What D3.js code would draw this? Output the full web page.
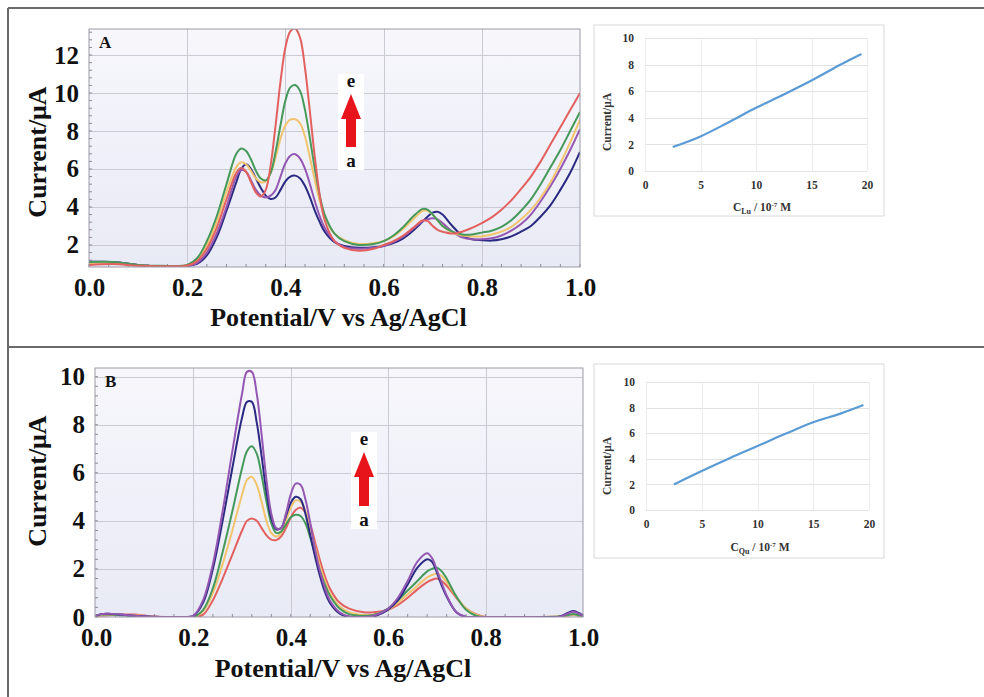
<!DOCTYPE html>
<html><head><meta charset="utf-8">
<script src="https://cdn.jsdelivr.net/npm/d3@7"></script>
<style>
html,body{margin:0;padding:0;background:#fff;}
svg{display:block;}
</style></head><body>
<svg id="chart" width="984" height="697"></svg>
<script>
// ---------- Panel A: DPV curves (Lu) ----------
const potentialA = [0,0.05,0.1,0.15,0.2, 0.22,0.24,0.26,0.28,0.30,
  0.31,0.32,0.33,0.34,0.35,0.36,0.37,0.38,0.39,0.40,0.41,0.42,0.43,0.44,0.45,0.46,0.47,0.48,
  0.50,0.52,0.55,0.58, 0.60,0.62,0.64,0.66,0.68, 0.69,0.70,0.71,0.72,
  0.74,0.76,0.78,0.80,0.82,0.84,0.86,0.88,0.90,0.92,0.94,0.96,0.98, 1.0];
const navyA = [1.12,1.1,0.95,0.88,0.9, 1.0,1.45,2.4,3.8,5.3,
  6.0,6.25,6.0,5.5,5.0,4.6,4.42,4.5,4.9,5.35,5.6,5.65,5.5,5.1,4.5,3.8,3.2,2.7,
  2.15,1.95,1.85,1.88, 1.95,2.1,2.35,2.75,3.25, 3.5,3.7,3.75,3.6,
  3.0,2.5,2.3,2.25,2.23,2.3,2.45,2.7,3.0,3.5,4.1,4.9,5.8, 6.9];
const purpleA = [1.1,1.1,0.95,0.88,0.9, 1.05,1.6,2.6,4.0,5.6,
  5.95,5.85,5.4,4.9,4.6,4.5,4.6,4.9,5.6,6.3,6.7,6.78,6.55,6.0,5.2,4.3,3.5,2.9,
  2.2,1.9,1.8,1.85, 1.95,2.15,2.45,2.85,3.25, 3.35,3.4,3.35,3.15,
  2.7,2.4,2.3,2.3,2.35,2.5,2.75,3.1,3.6,4.3,5.1,6.0,7.0, 8.1];
const yellowA = [1.05,1.05,0.92,0.88,0.93, 1.2,2.0,3.2,4.8,6.1,
  6.35,6.25,5.9,5.5,5.3,5.35,5.8,6.6,7.6,8.3,8.6,8.62,8.4,7.7,6.6,5.4,4.3,3.5,
  2.6,2.25,2.05,2.1, 2.2,2.45,2.85,3.35,3.8, 3.8,3.6,3.3,3.0,
  2.65,2.5,2.45,2.45,2.55,2.7,2.95,3.35,3.85,4.5,5.3,6.3,7.4, 8.6];
const greenA = [1.1,1.1,0.95,0.9,0.95, 1.3,2.2,3.5,5.2,6.8,
  7.08,6.95,6.5,5.9,5.5,5.4,5.8,6.9,8.3,9.6,10.3,10.42,10.1,9.1,7.6,6.0,4.6,3.6,
  2.6,2.2,2.0,2.05, 2.2,2.5,2.95,3.5,3.9, 3.85,3.6,3.3,3.0,
  2.7,2.55,2.55,2.65,2.75,2.95,3.3,3.8,4.4,5.2,6.1,7.0,8.0, 9.0];
const redA = [0.95,1.0,0.9,0.88,0.92, 1.15,1.8,2.9,4.4,5.8,
  6.05,5.85,5.3,4.75,4.55,4.9,6.2,8.3,10.6,12.4,13.25,13.4,12.9,11.3,9.0,6.6,4.6,3.3,
  2.2,1.85,1.7,1.8, 2.0,2.2,2.5,2.9,3.3, 3.25,3.0,2.8,2.7,
  2.6,2.7,2.9,3.15,3.45,3.85,4.35,4.95,5.6,6.4,7.3,8.2,9.1, 10.0];

// ---------- Panel B: DPV curves (Qu) ----------
const potentialB = [0,0.01,0.03,0.06,0.08,0.10,0.12,0.15,0.18,0.20, 0.22,0.24,0.26,0.28,0.30,
  0.31,0.32,0.33,0.34,0.35,0.36,0.37,0.38,0.39,0.40,0.41,0.42,0.43,0.44,0.45,0.46,0.47,0.48,
  0.50,0.52,0.55,0.57, 0.60,0.62,0.64,0.66,0.68, 0.69,0.70,0.71,0.72,
  0.74,0.76,0.78,0.80, 0.85,0.90,0.95, 0.97,0.98,0.99,1.0];
const redB = [0.03,0.06,0.08,0.1,0.1,0.06,0.02,0,0,0, 0.1,0.7,1.6,2.6,3.6,
  4.0,4.1,4.0,3.7,3.4,3.22,3.2,3.35,3.7,4.15,4.45,4.55,4.35,3.85,3.1,2.35,1.7,1.2,
  0.6,0.35,0.2,0.2, 0.3,0.5,0.8,1.15,1.45, 1.55,1.6,1.5,1.3,
  0.8,0.35,0.12,0, 0,0,0.02, 0.06,0.1,0.06,0.02];
const yellowB = [0.04,0.08,0.1,0.08,0.07,0.04,0.01,0,0,0, 0.25,1.0,2.2,3.6,5.1,
  5.7,5.83,5.5,4.8,4.0,3.5,3.35,3.5,4.0,4.55,4.85,4.8,4.4,3.7,2.9,2.1,1.5,1.0,
  0.45,0.2,0.08,0.1, 0.3,0.6,0.95,1.3,1.65, 1.75,1.8,1.7,1.45,
  0.85,0.35,0.1,0, 0,0,0.02, 0.08,0.1,0.07,0.03];
const greenB = [0.05,0.1,0.1,0.06,0.04,0.02,0,0,0,0, 0.3,1.2,2.7,4.4,6.2,
  6.9,7.1,6.8,5.9,4.8,3.9,3.5,3.55,3.85,4.15,4.25,4.2,3.9,3.3,2.6,1.9,1.35,0.9,
  0.35,0.12,0.05,0.08, 0.35,0.7,1.1,1.5,1.9, 2.0,2.05,1.9,1.6,
  0.85,0.3,0.05,0, 0,0,0.02, 0.08,0.12,0.08,0.03];
const navyB = [0.05,0.12,0.13,0.08,0.05,0.03,0.01,0,0,0.05, 0.6,2.0,4.0,6.2,8.3,
  8.95,8.95,8.1,6.7,5.2,4.1,3.65,3.7,4.2,4.75,5.0,4.9,4.3,3.4,2.5,1.7,1.05,0.6,
  0.15,0,0,0.02, 0.3,0.7,1.35,2.05,2.4, 2.3,1.85,1.3,0.85,
  0.2,0,0,0, 0,0,0, 0.18,0.25,0.18,0.06];
const purpleB = [0.05,0.12,0.13,0.08,0.05,0.03,0.01,0,0,0.05, 0.7,2.2,4.4,6.9,9.3,
  10.2,10.2,9.3,7.6,5.7,4.3,3.7,3.7,4.3,5.1,5.55,5.5,4.9,3.9,2.8,1.9,1.2,0.7,
  0.2,0.02,0,0.05, 0.35,0.8,1.5,2.3,2.65, 2.45,1.95,1.4,0.9,
  0.2,0,0,0, 0,0,0, 0.15,0.22,0.15,0.05];

// ---------- Calibration plots ----------
const concLu = [2.5,5,7.5,10,12.5,15,17.5,19.5];
const peakLu = [1.8,2.6,3.65,4.75,5.75,6.8,7.95,8.8];
const concQu = [2.5,5,7.5,10,12.5,15,17.5,19.5];
const peakQu = [2.0,3.05,4.05,5.0,5.95,6.85,7.55,8.2];

// ---------- Tick labels ----------
const potentialTicks = [0,0.2,0.4,0.6,0.8,1.0];
const currentTicksA = [2,4,6,8,10,12];
const currentTicksB = [0,2,4,6,8,10];
const concTicks = [0,5,10,15,20];
const insetCurrentTicks = [0,2,4,6,8,10];

const colors = {red:'#e2615f', green:'#45995a', yellow:'#f2c46e', purple:'#9457b3', navy:'#2b2a82'};
const serif = '"Liberation Serif","Times New Roman",serif';

const svg = d3.select('#chart');
const defs = svg.append('defs');
const grad = defs.append('linearGradient').attr('id','plotBg').attr('x1',0).attr('y1',0).attr('x2',0).attr('y2',1);
grad.append('stop').attr('offset','0%').attr('stop-color','#f7f7fc');
grad.append('stop').attr('offset','100%').attr('stop-color','#e8eaf5');

// Figure frame: top edge, left edge, divider between the two panels
const frame = svg.append('g').attr('fill','none').attr('stroke','#6a6a6a').attr('stroke-width',2);
frame.append('line').attr('x1',8).attr('x2',984).attr('y1',8).attr('y2',8);
frame.append('line').attr('x1',8).attr('x2',8).attr('y1',8).attr('y2',697);
frame.append('line').attr('x1',8).attr('x2',984).attr('y1',347).attr('y2',347);

function voltammogram(cfg) {
  const {left, right, top, bottom} = cfg;
  const w = right - left, h = bottom - top;
  const g = svg.append('g').attr('transform', `translate(${left},${top})`);
  const x = d3.scaleLinear().domain([0,1]).range([cfg.x0 || 0, w]);
  const y = d3.scaleLinear().domain(cfg.yDomain).range([h, 0]);

  g.append('rect').attr('width', w).attr('height', h).attr('fill', 'url(#plotBg)');

  // grid
  const grid = g.append('g').attr('stroke', '#c9cad3').attr('stroke-width', 1);
  cfg.yTicks.forEach(t => {
    if (y(t) > 1 && y(t) < h - 1)
      grid.append('line').attr('x1',0).attr('x2',w).attr('y1',Math.round(y(t))+0.5).attr('y2',Math.round(y(t))+0.5);
  });
  potentialTicks.forEach(t => {
    if (x(t) > 2 && x(t) < w - 2)
      grid.append('line').attr('y1',0).attr('y2',h).attr('x1',Math.round(x(t))+0.5).attr('x2',Math.round(x(t))+0.5);
  });

  // minor ticks on the left and bottom edges
  const minor = g.append('g').attr('stroke', '#8a8a95').attr('stroke-width', 1);
  d3.range(0, 1.0001, 0.04).forEach(v => {
    minor.append('line').attr('x1', x(v)).attr('x2', x(v)).attr('y1', h).attr('y2', h - 3);
  });
  d3.range(Math.ceil(cfg.yDomain[0]/0.4)*0.4, cfg.yDomain[1], 0.4).forEach(v => {
    minor.append('line').attr('x1', 0).attr('x2', 3).attr('y1', y(v)).attr('y2', y(v));
  });

  // curves
  const clipId = 'clip' + cfg.label;
  defs.append('clipPath').attr('id', clipId).append('rect').attr('width', w).attr('height', h);
  const line = d3.line().x(d => x(d[0])).y(d => y(d[1])).curve(d3.curveCatmullRom.alpha(0.5));
  const curves = g.append('g').attr('clip-path', `url(#${clipId})`);
  cfg.series.forEach(s => {
    curves.append('path')
      .datum(cfg.potential.map((p, i) => [p, s.values[i]]))
      .attr('d', line).attr('fill', 'none')
      .attr('stroke', colors[s.color]).attr('stroke-width', 2).attr('stroke-linejoin','round');
  });

  g.append('rect').attr('width', w).attr('height', h).attr('fill', 'none').attr('stroke', '#9a9aa6').attr('stroke-width', 1);

  // axes
  const xAxis = g.append('g').attr('transform', `translate(0,${h})`)
    .call(d3.axisBottom(x).tickValues(potentialTicks).tickFormat(d3.format('.1f')).tickSize(0).tickPadding(11));
  const yAxis = g.append('g')
    .call(d3.axisLeft(y).tickValues(cfg.yTicks).tickFormat(d3.format('d')).tickSize(0).tickPadding(cfg.yPad));
  [xAxis, yAxis].forEach(a => {
    a.select('.domain').remove();
    a.selectAll('text').attr('font-family', serif).attr('font-weight', 'bold').attr('font-size', 25).attr('fill', '#111');
  });

  // panel letter
  g.append('text').attr('x', 10).attr('y', 19).text(cfg.label)
    .attr('font-family', serif).attr('font-weight', 'bold').attr('font-size', 17).attr('fill', '#111');

  // axis titles
  svg.append('text').attr('x', left + w / 2 + 4).attr('y', cfg.xTitleY).attr('text-anchor', 'middle')
    .attr('font-family', serif).attr('font-weight', 'bold').attr('font-size', 26).attr('fill', '#111')
    .text('Potential/V vs Ag/AgCl');
  svg.append('text').attr('transform', `translate(${cfg.yTitleX},${cfg.yTitleY}) rotate(-90)`).attr('text-anchor', 'middle')
    .attr('font-family', serif).attr('font-weight', 'bold').attr('font-size', 26).attr('fill', '#111')
    .text('Current/μA');

  // concentration arrow a -> e
  const ar = cfg.arrow;
  const ag = svg.append('g');
  ag.append('rect').attr('x', ar.x - 13).attr('y', ar.top - 20).attr('width', 26).attr('height', ar.bottom - ar.top + 43).attr('fill', '#fff');
  ag.append('path').attr('fill', '#e8141b')
    .attr('d', `M${ar.x},${ar.top} L${ar.x + 10},${ar.top + 25} L${ar.x + 5},${ar.top + 25} L${ar.x + 5},${ar.bottom} L${ar.x - 5},${ar.bottom} L${ar.x - 5},${ar.top + 25} L${ar.x - 10},${ar.top + 25} Z`);
  ag.append('text').attr('x', ar.x).attr('y', ar.top - 7).attr('text-anchor', 'middle').text('e')
    .attr('font-family', serif).attr('font-weight', 'bold').attr('font-size', 19).attr('fill', '#111');
  ag.append('text').attr('x', ar.x).attr('y', ar.bottom + 20).attr('text-anchor', 'middle').text('a')
    .attr('font-family', serif).attr('font-weight', 'bold').attr('font-size', 19).attr('fill', '#111');
}

voltammogram({
  label: 'A', left: 89, right: 580, top: 29, bottom: 267, yPad: 10,
  yDomain: [0.84, 13.37], yTicks: currentTicksA, potential: potentialA,
  series: [
    {color:'navy', values: navyA}, {color:'purple', values: purpleA},
    {color:'yellow', values: yellowA}, {color:'green', values: greenA}, {color:'red', values: redA}
  ],
  xTitleY: 326, yTitleX: 46, yTitleY: 152,
  arrow: {x: 351, top: 94, bottom: 147}
});

voltammogram({
  label: 'B', left: 95, right: 583, top: 368, bottom: 617, yPad: 10, x0: 1,
  yDomain: [0, 10.36], yTicks: currentTicksB, potential: potentialB,
  series: [
    {color:'red', values: redB}, {color:'yellow', values: yellowB}, {color:'green', values: greenB},
    {color:'navy', values: navyB}, {color:'purple', values: purpleB}
  ],
  xTitleY: 677, yTitleX: 46, yTitleY: 481,
  arrow: {x: 364, top: 452, bottom: 506}
});

function calibration(cfg) {
  svg.append('rect').attr('x', cfg.box[0]).attr('y', cfg.box[1])
    .attr('width', cfg.box[2] - cfg.box[0]).attr('height', cfg.box[3] - cfg.box[1])
    .attr('fill', '#fff').attr('stroke', '#d8d8d8').attr('stroke-width', 1);
  const x = d3.scaleLinear().domain([0, 20]).range([cfg.plot[0], cfg.plot[2]]);
  const y = d3.scaleLinear().domain([0, 10]).range([cfg.plot[3], cfg.plot[1]]);
  const g = svg.append('g');
  insetCurrentTicks.forEach(t => {
    g.append('line').attr('x1', x(0)).attr('x2', x(20)).attr('y1', Math.round(y(t)) + 0.5).attr('y2', Math.round(y(t)) + 0.5)
      .attr('stroke', '#e2e2e2').attr('stroke-width', 1);
  });
  concTicks.forEach(t => {
    g.append('line').attr('y1', y(0)).attr('y2', y(10)).attr('x1', Math.round(x(t)) + 0.5).attr('x2', Math.round(x(t)) + 0.5)
      .attr('stroke', '#ececec').attr('stroke-width', 1);
  });
  const line = d3.line().x(d => x(d[0])).y(d => y(d[1])).curve(d3.curveCatmullRom.alpha(0.5));
  g.append('path').datum(cfg.conc.map((c, i) => [c, cfg.current[i]]))
    .attr('d', line).attr('fill', 'none').attr('stroke', '#5b9bd5').attr('stroke-width', 2.2);

  const xAxis = g.append('g').attr('transform', `translate(0,${y(0)})`)
    .call(d3.axisBottom(x).tickValues(concTicks).tickFormat(d3.format('d')).tickSize(0).tickPadding(10));
  const yAxis = g.append('g').attr('transform', `translate(${x(0)},0)`)
    .call(d3.axisLeft(y).tickValues(insetCurrentTicks).tickFormat(d3.format('d')).tickSize(0).tickPadding(11));
  [xAxis, yAxis].forEach(a => {
    a.select('.domain').remove();
    a.selectAll('text').attr('font-family', serif).attr('font-weight', 'bold').attr('font-size', 11.5).attr('fill', '#333');
  });

  const t = g.append('text').attr('x', cfg.xTitle[0]).attr('y', cfg.xTitle[1]).attr('text-anchor', 'middle')
    .attr('font-family', serif).attr('font-weight', 'bold').attr('font-size', 11.5).attr('fill', '#333');
  t.append('tspan').text('C');
  t.append('tspan').attr('font-size', 8).attr('dy', 3).text(cfg.analyte);
  t.append('tspan').attr('dy', -3).text(' / 10');
  t.append('tspan').attr('font-size', 7).attr('dy', -4).text('-7');
  t.append('tspan').attr('dy', 4).text(' M');

  g.append('text').attr('transform', `translate(${cfg.yTitle[0]},${cfg.yTitle[1]}) rotate(-90)`).attr('text-anchor', 'middle')
    .attr('font-family', serif).attr('font-weight', 'bold').attr('font-size', 11.5).attr('fill', '#333')
    .text('Current/μA');
}

calibration({
  box: [594, 25, 884, 216], plot: [645, 38, 867, 171],
  conc: concLu, current: peakLu, analyte: 'Lu',
  xTitle: [762, 211], yTitle: [611, 122]
});
calibration({
  box: [594, 364, 884, 558], plot: [646, 382, 869, 510],
  conc: concQu, current: peakQu, analyte: 'Qu',
  xTitle: [760, 551], yTitle: [611, 466]
});
</script>
</body></html>
